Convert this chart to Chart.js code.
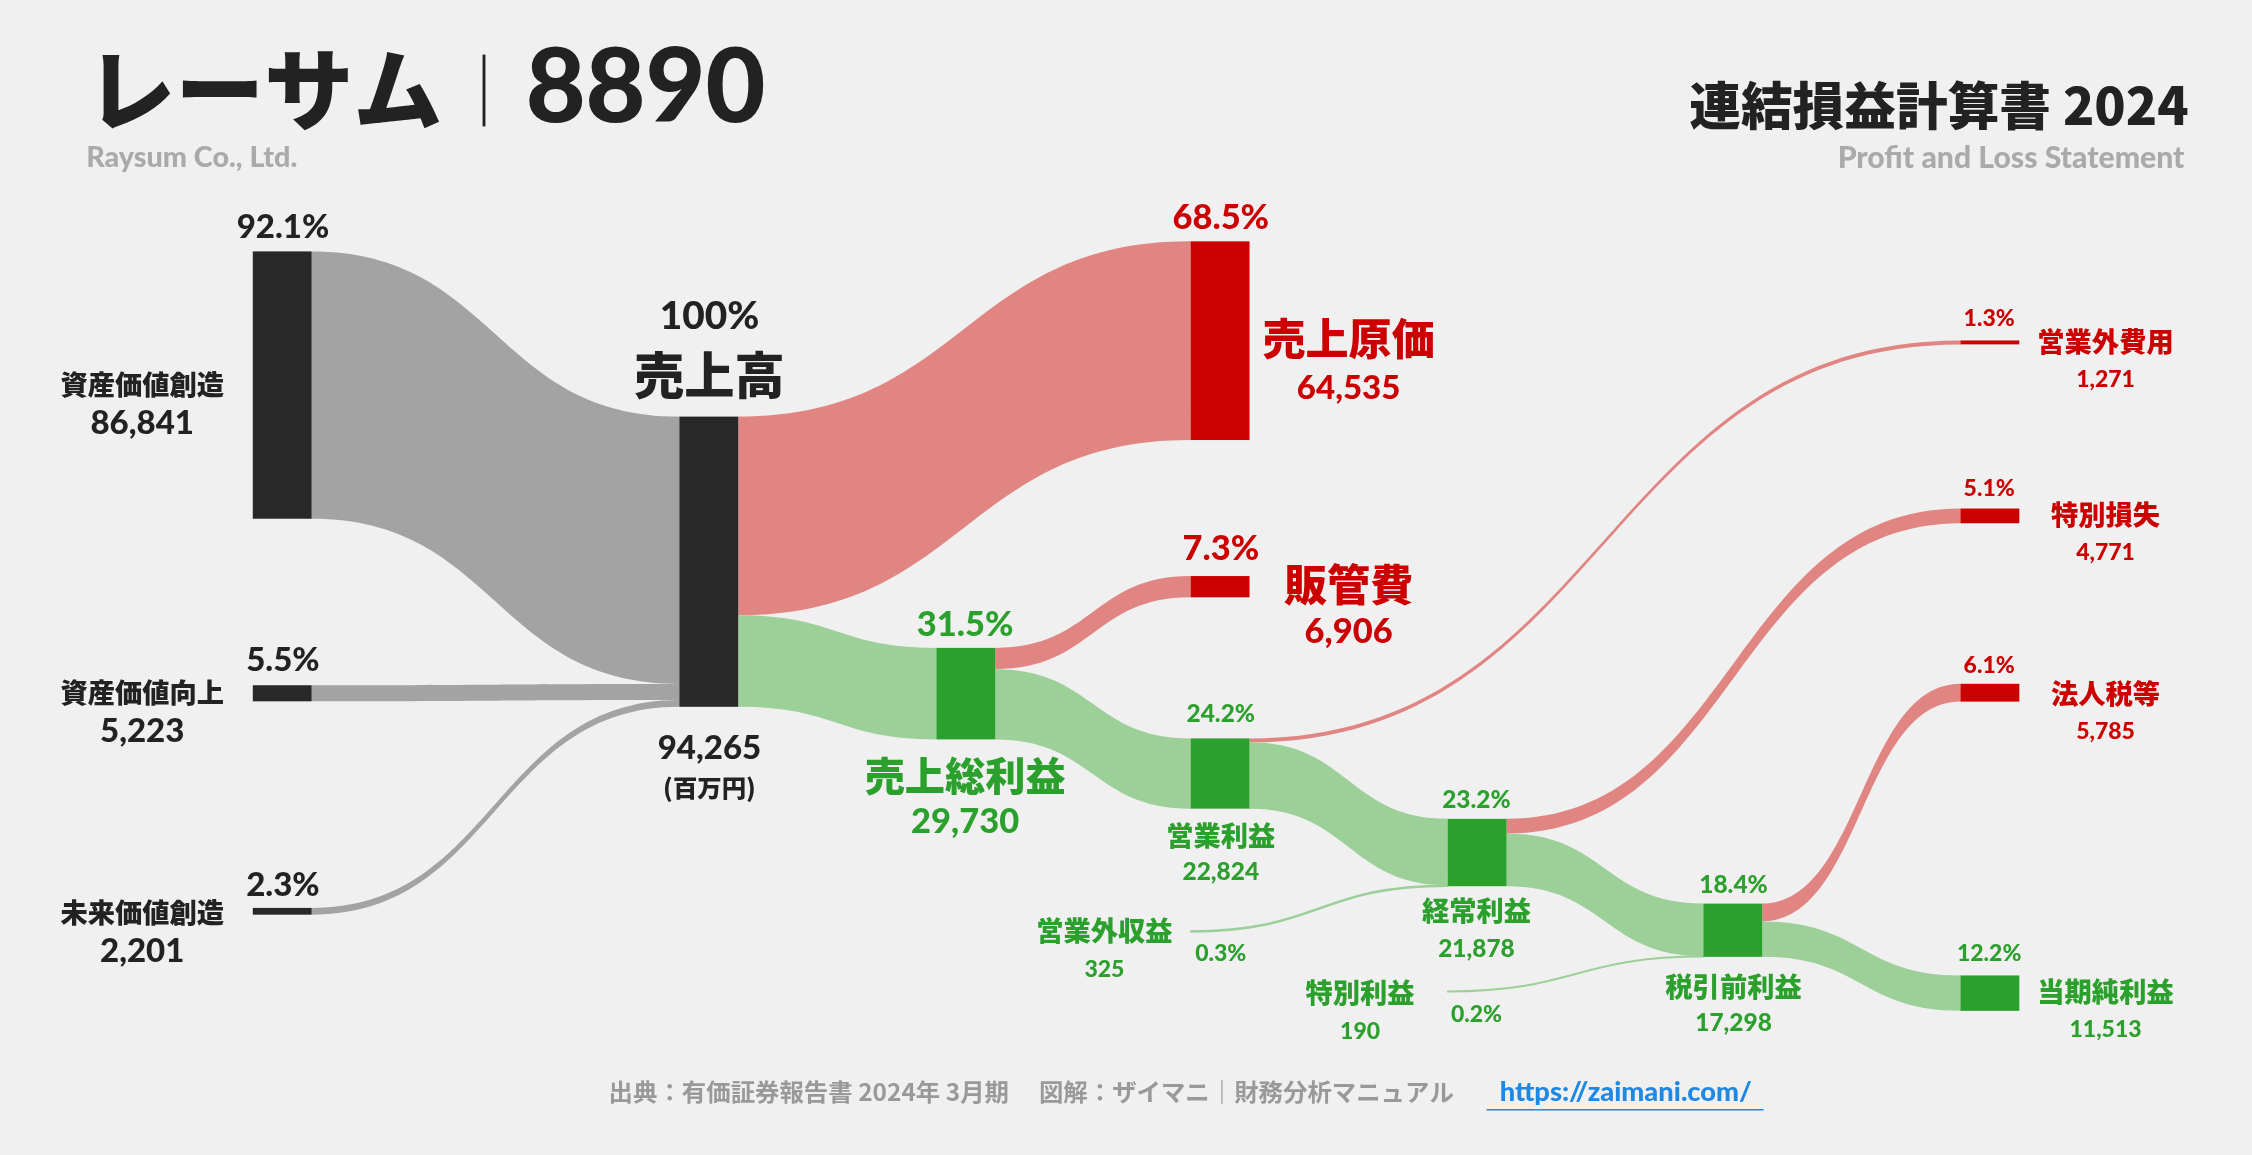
<!DOCTYPE html>
<html><head><meta charset="utf-8">
<script src="https://cdn.jsdelivr.net/npm/chart.js@4"></script>
<style>html,body{margin:0;padding:0;background:#f0f0f0;overflow:hidden}canvas{display:block}</style>
</head><body><canvas id="c" width="2252" height="1155" style="width:2252px;height:1155px"></canvas>
<script>
// ---- data (百万円) ----
const nodeNames  = ['資産価値創造','資産価値向上','未来価値創造','売上高','売上原価','販管費','売上総利益','営業利益','営業外費用','営業外収益','経常利益','特別損失','特別利益','税引前利益','法人税等','当期純利益'];
const nodeValues = [86841,5223,2201,94265,64535,6906,29730,22824,1271,325,21878,4771,190,17298,5785,11513];
const nodeKinds  = ['src','src','src','src','cost','cost','profit','profit','cost','profit','profit','cost','profit','profit','cost','profit'];
const flowFrom   = [0,1,2,3,3,6,6,7,7,9,10,10,12,13,13];
const flowTo     = [3,3,3,4,6,5,7,8,10,10,11,13,13,14,15];
const flowValues = [86841,5223,2201,64535,29730,6906,22824,1271,21553,325,4771,17107,190,5785,11513];
const percentLabels = ['92.1%','5.5%','2.3%','100%','68.5%','7.3%','31.5%','24.2%','1.3%','0.3%','23.2%','5.1%','0.2%','18.4%','6.1%','12.2%'];
// layout (reference units)
const nodeX   = [176,176,176,473,829,829,652,829,1365,829,1008,1365,1008,1186,1365,1365];
const nodeTop = [175,477,632,290,168,401,451,514,237,648,570,354,690,629,476,679];
const hidden  = [false,false,false,false,false,false,false,false,false,true,false,false,true,false,false,false];
const NW = 41, K = 0.002143;
const colors = {src:'#282828',cost:'#cc0000',profit:'#2ca02c'};
const flowColors = {src:'#a3a3a3',cost:'#e08582',profit:'#9dcf98'};
const JP = '"Noto Sans CJK JP"';
const NUM = 'Lato, "Noto Sans CJK JP"';

function fmt(v){return v.toLocaleString('en-US');}

const sankey = {
  id:'sankey',
  afterDatasetsDraw(chart){
    const ctx=chart.ctx, xs=chart.scales.x, ys=chart.scales.y;
    const X=v=>xs.getPixelForValue(v), Y=v=>ys.getPixelForValue(v);
    const outOff=nodeValues.map(()=>0), inOff=nodeValues.map(()=>0);
    flowValues.forEach((v,i)=>{
      const s=flowFrom[i], t=flowTo[i];
      const h=v*K;
      const sy0=nodeTop[s]+outOff[s]; outOff[s]+=h;
      const ty0=nodeTop[t]+inOff[t]; inOff[t]+=h;
      const x0=X(nodeX[s]+(hidden[s]?0:NW)), x1=X(nodeX[t]);
      const mx=(x0+x1)/2;
      const kind = nodeKinds[t];
      ctx.fillStyle=flowColors[kind];
      ctx.strokeStyle=flowColors[kind];
      ctx.beginPath();
      ctx.moveTo(x0,Y(sy0));
      ctx.bezierCurveTo(mx,Y(sy0),mx,Y(ty0),x1,Y(ty0));
      ctx.lineTo(x1,Y(ty0+h));
      ctx.bezierCurveTo(mx,Y(ty0+h),mx,Y(sy0+h),x0,Y(sy0+h));
      ctx.closePath();
      ctx.fill();
      if(h<1.2){ctx.lineWidth=1.5;ctx.stroke();}
    });
    nodeValues.forEach((v,i)=>{
      if(hidden[i])return;
      ctx.fillStyle=colors[nodeKinds[i]];
      const y0=Y(nodeTop[i]), y1=Y(nodeTop[i]+Math.max(v*K,1.5));
      ctx.fillRect(X(nodeX[i]),y0,X(nodeX[i]+NW)-X(nodeX[i]),y1-y0);
    });
    const S=xs.width/1568;
    const T=(txt,x,y,size,color,font,align,weight)=>{
      ctx.font=`${weight||'900'} ${size*S}px ${font||JP}`;
      ctx.fillStyle=color;ctx.textAlign=align||'center';ctx.textBaseline='middle';
      ctx.fillText(txt,X(x),Y(y));
    };
    const dark='#222', red='#cc0000', green='#2ca02c';
    T('レーサム',60,62,62,dark,JP,'left','900');
    ctx.fillStyle=dark;ctx.fillRect(X(336),Y(38),2*S,Y(88)-Y(38));
    T('8890',366,62,72,dark,NUM,'left','900');
    T('Raysum Co., Ltd.',60,110,20,'#aaa',NUM,'left');
    T('連結損益計算書 2024',1524,73,36,dark,JP,'right','900');
    T('Profit and Loss Statement',1521,110,21,'#aaa',NUM,'right');
    T(percentLabels[0],197,158,23,dark,NUM);
    T(nodeNames[0],99,268,19,dark);T(fmt(nodeValues[0]),99,295,23,dark,NUM);
    T(percentLabels[1],197,460,23,dark,NUM);
    T(nodeNames[1],99,482,19,dark);T(fmt(nodeValues[1]),99,509,23,dark,NUM);
    T(percentLabels[2],197,616,23,dark,NUM);
    T(nodeNames[2],99,635,19,dark);T(fmt(nodeValues[2]),99,662,23,dark,NUM);
    T(percentLabels[3],494,220,27,dark,NUM);
    T(nodeNames[3],494,261,35,dark);
    T(fmt(nodeValues[3]),494,521,23,dark,NUM);
    T('(百万円)',494,548,17,dark);
    T(percentLabels[4],850,152,24,red,NUM);
    T(nodeNames[4],939,236,30,red);T(fmt(nodeValues[4]),939,270,23,red,NUM);
    T(percentLabels[5],850,382,24,red,NUM);
    T(nodeNames[5],939,407,30,red);T(fmt(nodeValues[5]),939,440,24,red,NUM);
    T(percentLabels[6],672,435,24,green,NUM);
    T(nodeNames[6],672,540,28,green);T(fmt(nodeValues[6]),672,572,24,green,NUM);
    T(percentLabels[7],850,497,17,green,NUM);
    T(nodeNames[7],850,582,19,green);T(fmt(nodeValues[7]),850,607,17,green,NUM);
    T(percentLabels[10],1028,557,17,green,NUM);
    T(nodeNames[10],1028,634,19,green);T(fmt(nodeValues[10]),1028,661,17,green,NUM);
    T(percentLabels[13],1207,616,17,green,NUM);
    T(nodeNames[13],1207,687,19,green);T(fmt(nodeValues[13]),1207,712,17,green,NUM);
    T(nodeNames[9],769,648,19,green);T(fmt(nodeValues[9]),769,675,16,green,NUM);T(percentLabels[9],850,664,16,green,NUM);
    T(nodeNames[12],947,691,19,green);T(fmt(nodeValues[12]),947,718,16,green,NUM);T(percentLabels[12],1028,706,16,green,NUM);
    T(percentLabels[8],1385,222,16,red,NUM);T(nodeNames[8],1466,238,19,red);T(fmt(nodeValues[8]),1466,264,16,red,NUM);
    T(percentLabels[11],1385,340,16,red,NUM);T(nodeNames[11],1466,358,19,red);T(fmt(nodeValues[11]),1466,385,16,red,NUM);
    T(percentLabels[14],1385,463,16,red,NUM);T(nodeNames[14],1466,483,19,red);T(fmt(nodeValues[14]),1466,509,16,red,NUM);
    T(percentLabels[15],1385,664,16,green,NUM);T(nodeNames[15],1466,690,19,green);T(fmt(nodeValues[15]),1466,717,16,green,NUM);
    T('出典：有価証券報告書 2024年 3月期　 図解：ザイマニ｜財務分析マニュアル',718,760,17,'#999','','center','bold');
    T('https://zaimani.com/',1132,760,19,'#1e88e5',NUM);
    ctx.fillStyle='#1e88e5';ctx.fillRect(X(1035),Y(772),X(1228)-X(1035),1.5);
  }
};

new Chart(document.getElementById('c'),{
  type:'scatter',
  data:{datasets:[{data:[]}]},
  options:{
    responsive:false,animation:false,devicePixelRatio:1,
    layout:{padding:0},
    plugins:{legend:{display:false},tooltip:{enabled:false}},
    scales:{
      x:{type:'linear',min:0,max:1568,display:false},
      y:{type:'linear',min:0,max:804,reverse:true,display:false}
    }
  },
  plugins:[sankey]
});
</script></body></html>
